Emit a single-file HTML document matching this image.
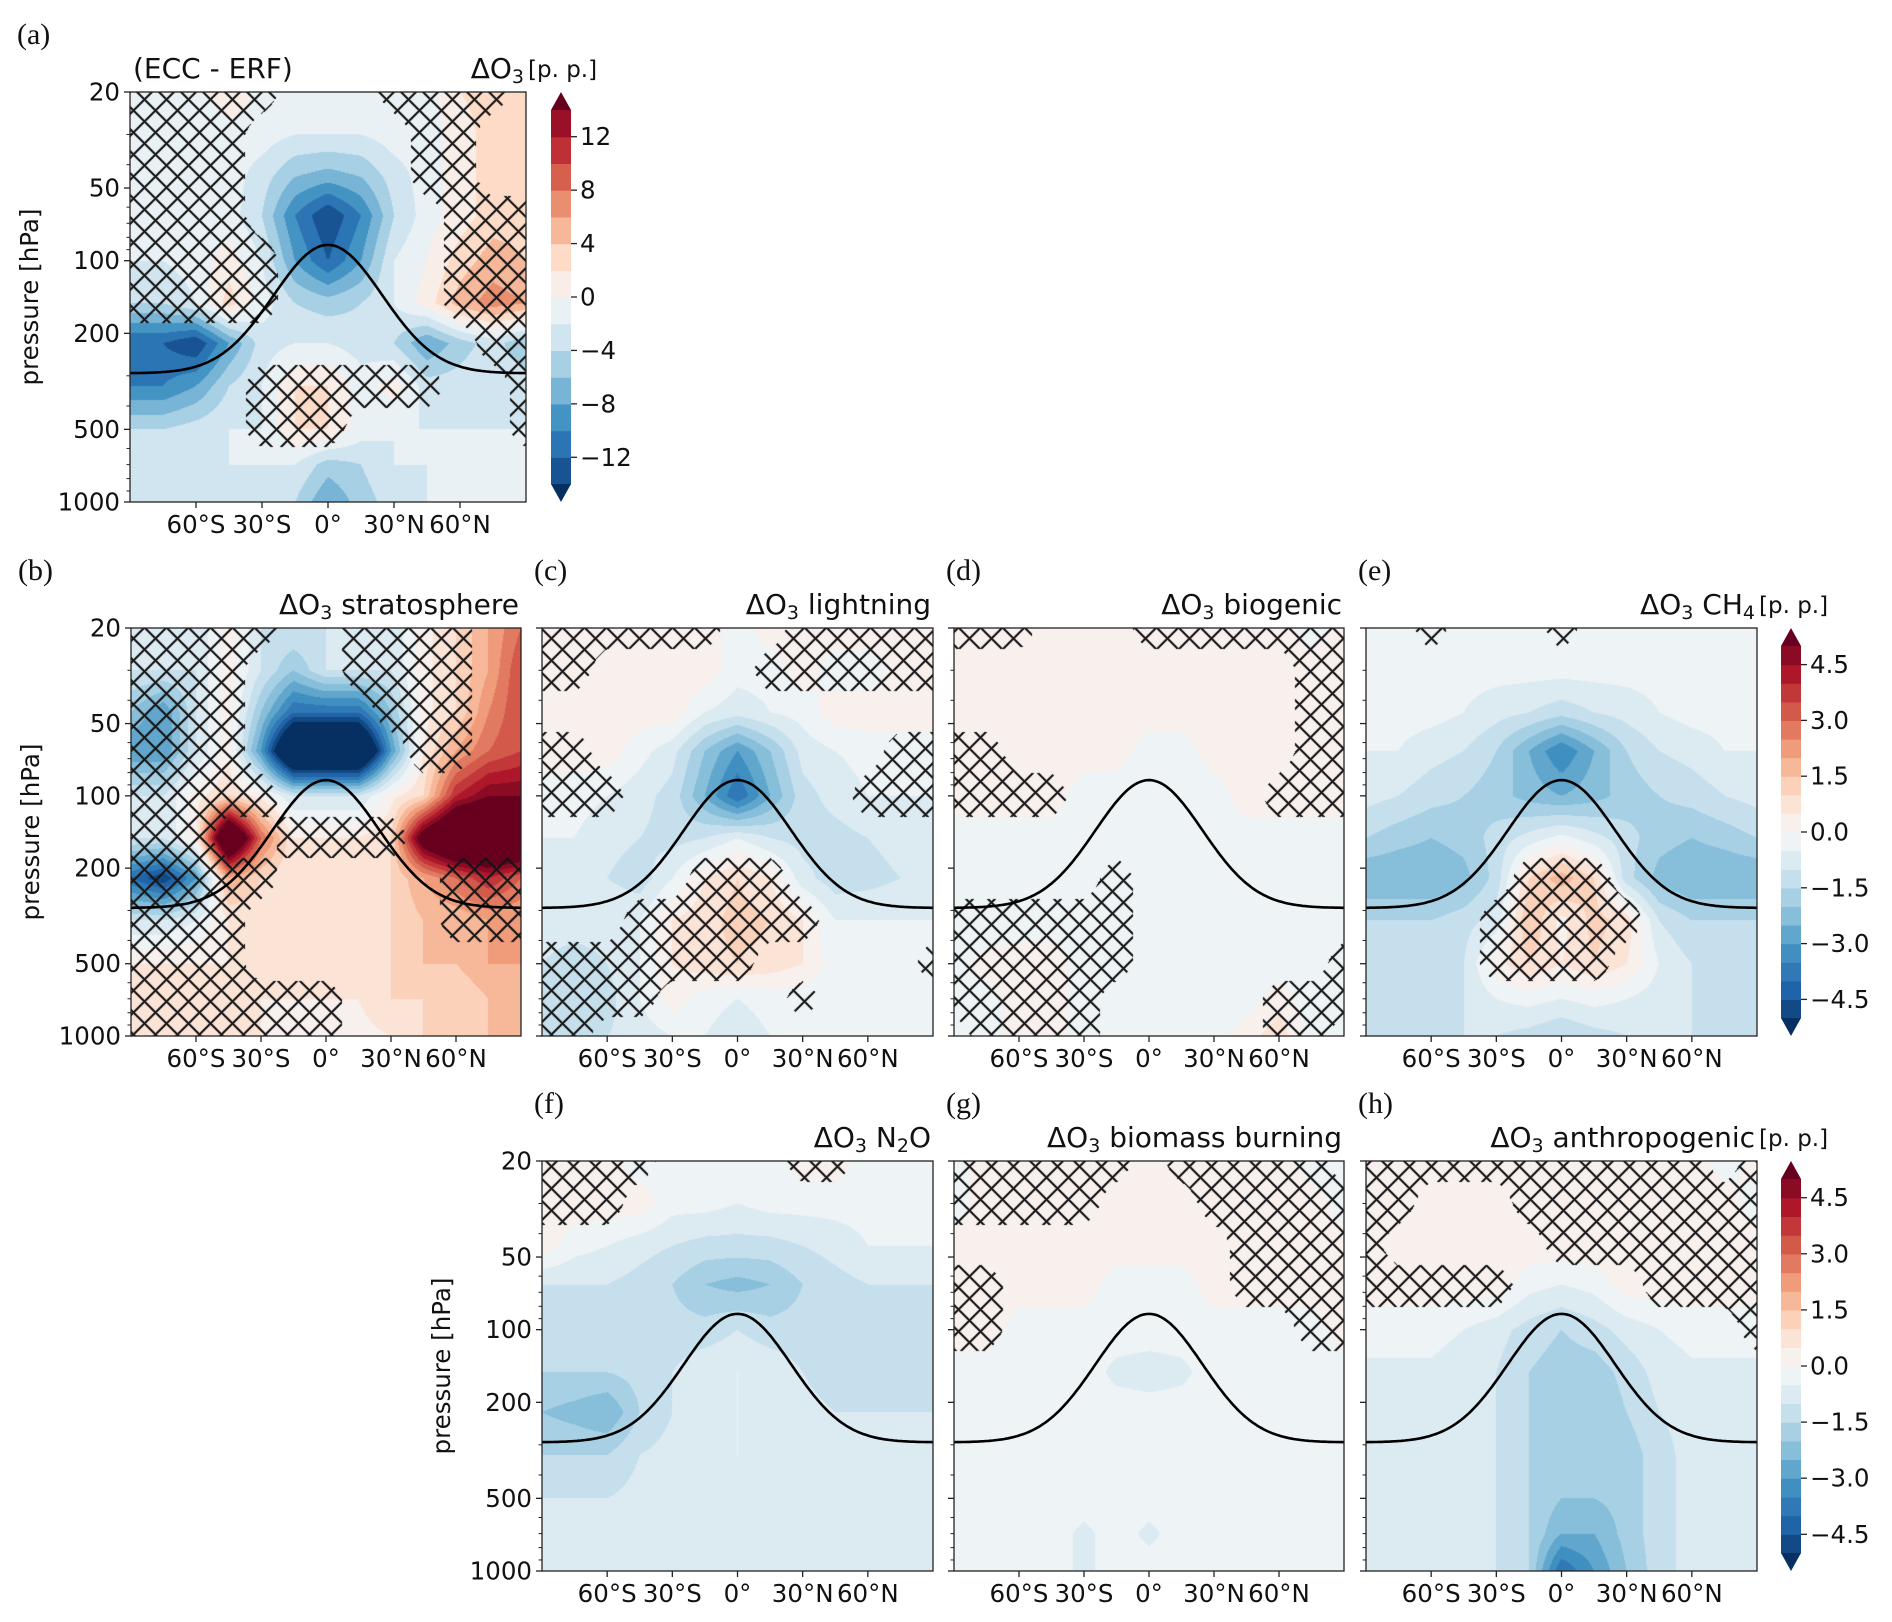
<!DOCTYPE html>
<html><head><meta charset="utf-8">
<style>
html,body{margin:0;padding:0;background:#fff;}
#wrap{position:relative;width:1892px;height:1622px;overflow:hidden;}
canvas,svg{position:absolute;left:0;top:0;}
svg text{font-family:"DejaVu Sans","Liberation Sans",sans-serif;fill:#111;}
svg text.pl{font-family:"Liberation Serif",serif;}
</style></head>
<body>
<div id="wrap">
<canvas id="cv" width="1892" height="1622"></canvas>
<svg id="sv" width="1892" height="1622" xmlns="http://www.w3.org/2000/svg"></svg>
</div>
<script>
// ---- data ----
const lats=[-90,-75,-60,-45,-30,-15,0,15,30,45,60,75,90];
const rowP=[20,30,45,65,100,150,220,330,500,700,1000];
const yTickLabels=[20,50,100,200,500,1000];
const yMinor=[30,40,60,70,80,90,300,400,600,700,800,900];
const xTickVals=[-60,-30,0,30,60];
const xTickLabels=["60°S","30°S","0°","30°N","60°N"];
const cbTicksA=[-12,-8,-4,0,4,8,12];
const cbTicksB=[-4.5,-3.0,-1.5,0.0,1.5,3.0,4.5];
const tropoPolar=293, tropoEq=86;

const valsA=[
[-2,-2,-1,2,-1,-1,-1,-1,-1,-1,2,3,3],
[-2,-2,-2,-1,-1,-2,-2,-2,-1,-1,1,3,3],
[-2,-2,-2,-1,-3,-6,-7,-6,-3,-1,1,3,3],
[-2,-2,-2,-1,-4,-10,-14,-10,-4,-1,1,3,3],
[-2,-2,-1,1,-2,-8,-12,-8,-2,0,3,5,4],
[-4,-4,-2,3,-1,-4,-5,-4,-2,1,5,7,6],
[-12,-12,-14,-8,-3,-2,-2,-3,-4,-8,-5,-3,-6],
[-10,-10,-8,-4,-2,2,2,-1,1,-3,-3,-2,-3],
[-4,-4,-3,-2,-2,2,2,-1,-2,-2,-2,-2,-2],
[-3,-3,-2,-2,-2,-2,-5,-4,-2,-2,-2,-2,-2],
[-2,-3,-3,-2,-3,-4,-8,-5,-3,-2,-2,-2,-2]];
const hatchA=["1111100011110","1111000001100","1111000001100","1111000000111","1111100000111","1111100000111","0000000000011","0000111111001","0000111000001","0000000000000","0000000000000"];

const valsB=[
[-1,-1,-1,0.3,-1,-1,-1,-1,-1,0.3,1,2,3],
[-1,-1,-1,0.3,-1,-2,-1,-1,-1,0.3,1,2,3.5],
[-2,-3,-1,0.3,-2,-4,-4,-4,-2,0.3,1,2.5,3.5],
[-3,-3,-1,0.3,-3,-8,-8,-8,-3,0.5,2,3,3.5],
[-1,-1,0.3,1,0.3,-1,-1,-1,0.3,1,4,5,5],
[-1,-1,0.3,8,3,0.5,0.5,0.5,1,6,8,8,8],
[-4,-5,-3,2,1,0.5,0.5,0.5,1,2,3,4,3],
[-1,-1,-0.5,0.5,0.5,0.5,0.5,0.8,1,1.5,1.5,2,2],
[0.5,0.5,0.5,0.5,0.8,0.5,0.5,0.5,1,1.5,1.5,2,2],
[0.5,0.5,0.5,0.5,0.5,0.5,0.5,0.5,1,1,1,1.5,2],
[0.5,0.5,0.5,0.5,0.5,0.3,0.3,0.3,0.5,1,1,1.5,2]];
const hatchB=["1111100111100","1111000111100","1111000011100","1111000001100","1111100000000","1110011110000","1111100000111","1111000000111","1111000000000","1111111000000","1111111000000"];

const valsC=[
[0.3,0.3,0.3,0.3,0.3,0.3,-0.3,0.3,0.3,0.3,0.3,0.3,0.3],
[0.3,0.3,0.3,0.3,0.3,0.3,-0.3,-0.3,0.3,-0.3,-0.3,0.3,0.3],
[0.3,0.3,0.3,0.3,0.3,-0.5,-0.8,-0.5,-0.3,0.3,0.3,0.3,0.3],
[0.3,0.3,0.3,-0.3,-0.8,-2,-3,-2,-0.8,-0.5,-0.3,-0.3,-0.3],
[-0.3,-0.3,-0.5,-0.8,-1.2,-2.5,-4,-2.5,-1.2,-0.8,-0.5,-0.5,-0.5],
[-0.5,-0.5,-0.8,-1,-1.2,-1,-0.5,-1,-1.2,-1.2,-1,-0.8,-0.8],
[-0.8,-0.8,-1,-1.3,-0.5,0.5,1,0.5,-0.8,-1.3,-1.2,-1,-1],
[-0.5,-0.5,-0.5,-0.5,0.5,0.8,1.2,1,0.5,-0.5,-0.5,-0.5,-0.5],
[-1,-1.5,-1,-0.5,0.5,0.8,1,0.8,0.5,-0.3,-0.3,-0.5,-0.5],
[-1.5,-1.5,-1.2,-0.5,0.3,-0.3,-0.5,-0.3,-0.3,-0.3,-0.3,-0.3,-0.3],
[-1.5,-1.5,-1,-0.8,-0.5,-0.5,-0.8,-0.5,-0.3,-0.3,-0.3,-0.3,-0.3]];
const hatchC=["1111110011111","1100000111111","0000000000000","1100000000011","1110000000111","0000000000000","0000011100000","0001111110000","1111111000001","1111000010000","1100000000000"];

const valsD=[
[0.3,0.3,0.3,0.3,0.3,0.3,0.3,0.3,0.3,0.3,0.3,-0.3,0.3],
[0.3,0.3,0.3,0.3,0.3,0.3,0.3,0.3,0.3,0.3,0.3,0.3,0.3],
[0.3,0.3,0.3,0.3,0.3,0.3,0.3,0.3,0.3,0.3,0.3,0.3,0.3],
[0.3,0.3,0.3,0.3,0.3,0.3,-0.3,-0.3,0.3,0.3,0.3,0.3,0.3],
[0.3,0.3,0.3,0.3,-0.3,-0.4,-0.4,-0.4,-0.3,0.3,0.3,0.3,0.3],
[-0.3,-0.3,-0.3,-0.3,-0.3,-0.4,-0.4,-0.3,-0.3,-0.3,-0.3,-0.3,-0.3],
[-0.3,-0.3,-0.3,-0.3,-0.3,-0.3,-0.3,-0.3,-0.3,-0.3,-0.3,-0.3,-0.3],
[-0.5,-0.5,-0.3,-0.3,-0.5,-0.3,-0.3,-0.3,-0.3,-0.3,-0.3,-0.3,-0.3],
[-0.3,0.3,0.3,0.3,-0.3,-0.3,-0.3,-0.3,-0.3,-0.3,-0.3,-0.5,-0.5],
[-0.3,-0.3,0.3,0.3,-0.3,-0.3,-0.3,-0.3,-0.3,-0.3,0.3,-0.3,-0.3],
[-0.3,-0.3,0.3,0.3,-0.3,-0.3,-0.3,-0.3,-0.3,0.3,0.8,-0.3,-0.3]];
const hatchD=["1110001111111","0000000000011","0000000000011","1100000000011","1111000000111","0000000000000","0000010000000","1111110000000","1111110000001","1111100000111","0111100000110"];

const valsE=[
[-0.3,-0.3,-0.3,-0.3,-0.3,-0.3,-0.3,-0.3,-0.3,-0.3,-0.3,-0.3,-0.3],
[-0.3,-0.3,-0.3,-0.3,-0.3,-0.3,-0.3,-0.3,-0.3,-0.3,-0.3,-0.3,-0.3],
[-0.3,-0.3,-0.3,-0.5,-0.8,-1,-1.3,-1,-0.8,-0.5,-0.3,-0.3,-0.3],
[-0.5,-0.5,-0.8,-1,-1.5,-2.5,-3.5,-2.5,-1.5,-1,-0.8,-0.5,-0.5],
[-0.8,-1,-1.3,-1.5,-1.8,-2.2,-2.5,-2.2,-1.8,-1.5,-1.3,-1,-0.8],
[-1.5,-1.8,-2,-1.8,-1.3,-0.8,-0.3,-0.8,-1.3,-1.8,-2,-1.8,-1.5],
[-2.5,-2.5,-2.5,-2.2,-1.3,1,1.8,1,-1.3,-2.2,-2.5,-2.5,-2.5],
[-1.5,-1.5,-1.5,-1.2,-0.8,1.5,0.3,1.2,0.8,-1,-1.5,-1.5,-1.5],
[-1.2,-1.2,-1.2,-1,0.3,1,0.5,1,0.5,-0.5,-1,-1.2,-1.2],
[-1.2,-1.2,-1.2,-1,-0.5,-0.3,-0.5,-0.3,-0.5,-0.8,-1,-1.2,-1.2],
[-1,-1,-1,-1,-1,-1.2,-1.5,-1.2,-1,-1,-1,-1,-1]];
const hatchE=["0010001000000","0000000000000","0000000000000","0000000000000","0000000000000","0000000000000","0000011100000","0000111110000","0000111100000","0000000000000","0000000000000"];

const valsF=[
[0.3,0.3,0.3,-0.3,-0.3,-0.3,-0.3,-0.3,0.3,0.3,-0.3,-0.3,-0.3],
[0.3,0.3,0.3,0.3,-0.3,-0.3,-0.5,-0.3,-0.3,-0.3,-0.3,-0.3,-0.3],
[0.3,-0.3,-0.5,-0.8,-1,-1.2,-1.2,-1.2,-1,-0.8,-0.5,-0.5,-0.5],
[-1,-1,-1,-1.2,-1.5,-2,-2.2,-2,-1.5,-1.2,-1,-1,-1],
[-1,-1.2,-1.2,-1.3,-1.3,-1.3,-1,-1.3,-1.3,-1.3,-1.2,-1.2,-1.2],
[-1.5,-1.5,-1.5,-1.3,-1,-0.6,-0.5,-0.6,-1,-1.3,-1.3,-1.3,-1.3],
[-2,-2.2,-2.5,-1.5,-1,-0.6,-0.5,-0.6,-0.8,-1,-1,-1,-1],
[-1.5,-1.5,-1.5,-1,-0.8,-0.5,-0.5,-0.5,-0.8,-0.8,-0.8,-0.8,-0.8],
[-1,-1,-1,-0.8,-0.8,-0.8,-0.8,-0.8,-0.8,-0.8,-0.8,-0.8,-0.8],
[-1,-1,-0.8,-0.8,-0.8,-0.8,-0.8,-0.8,-0.8,-0.8,-0.8,-0.8,-0.8],
[-1,-0.8,-0.8,-0.8,-0.8,-0.8,-1,-0.8,-0.8,-0.8,-0.8,-0.8,-0.8]];
const hatchF=["1111000011000","1110000000000","0000000000000","0000000000000","0000000000000","0000000000000","0000000000000","0000000000000","0000000000000","0000000000000","0000000000000"];

const valsG=[
[-0.3,0.3,0.3,0.3,0.3,0.3,0.3,0.3,0.3,0.3,0.3,-0.3,-0.3],
[-0.3,0.3,0.3,0.3,0.3,0.3,0.3,0.3,0.3,0.3,0.3,0.3,-0.3],
[0.3,0.3,0.3,0.3,0.3,0.3,0.3,0.3,0.3,0.3,0.3,0.3,0.3],
[0.3,0.3,0.3,0.3,0.3,-0.3,-0.3,-0.3,0.3,0.3,0.3,0.3,0.3],
[0.3,0.3,-0.3,-0.3,-0.3,-0.3,-0.3,-0.3,-0.3,-0.3,-0.3,-0.3,0.3],
[-0.3,-0.3,-0.3,-0.3,-0.3,-0.6,-0.7,-0.6,-0.3,-0.3,-0.3,-0.3,-0.3],
[-0.3,-0.3,-0.3,-0.3,-0.3,-0.3,-0.3,-0.3,-0.3,-0.3,-0.3,-0.3,-0.3],
[-0.3,-0.3,-0.3,-0.3,-0.3,-0.3,-0.3,-0.3,-0.3,-0.3,-0.3,-0.3,-0.3],
[-0.3,-0.3,-0.3,-0.3,-0.3,-0.3,-0.3,-0.3,-0.3,-0.3,-0.3,-0.3,-0.3],
[-0.3,-0.3,-0.3,-0.3,-0.6,-0.3,-0.6,-0.3,-0.3,-0.3,-0.3,-0.3,-0.3],
[-0.3,-0.3,-0.3,-0.3,-0.6,-0.3,-0.3,-0.3,-0.3,-0.3,-0.3,-0.3,-0.3]];
const hatchG=["1111110111110","1111100011111","0000000001111","1100000001111","1100000000011","0000000000000","0000000000000","0000000000000","0000000000000","0000000000000","0000000000000"];

const valsH=[
[0.3,0.3,0.3,0.3,0.3,0.3,0.3,0.3,0.3,0.3,0.3,-0.3,0.3],
[0.3,0.3,0.3,0.3,0.3,0.3,0.3,0.3,0.3,0.3,0.3,0.3,-0.3],
[0.3,0.3,0.3,0.3,0.3,0.3,0.3,0.3,0.3,0.3,0.3,0.3,0.3],
[0.3,0.3,0.3,0.3,0.3,-0.3,-0.5,-0.3,0.3,0.3,0.3,0.3,0.3],
[-0.3,-0.3,-0.3,-0.5,-0.8,-1.2,-1.5,-1.2,-0.8,-0.5,-0.3,-0.3,-0.3],
[-0.6,-0.6,-0.6,-0.8,-1,-1.5,-1.8,-1.8,-1.3,-0.8,-0.6,-0.6,-0.6],
[-0.8,-0.8,-0.8,-0.8,-1,-1.5,-1.8,-2,-1.5,-1,-0.8,-0.8,-0.8],
[-0.8,-0.8,-0.8,-0.8,-1,-1.5,-1.8,-2,-1.8,-1.2,-0.8,-0.8,-0.8],
[-0.8,-0.8,-0.8,-0.8,-1,-1.5,-2,-2,-1.8,-1.2,-0.8,-0.8,-0.8],
[-0.8,-0.8,-0.8,-0.8,-1,-1.5,-2.5,-2.5,-1.8,-1.2,-0.8,-0.8,-0.8],
[-0.8,-0.8,-0.8,-0.8,-1,-1.5,-4,-3,-2,-1.2,-0.8,-0.8,-0.8]];
const hatchH=["1111111111101","1100011111111","1000001111111","1111100001111","0000000000001","0000000000000","0000000000000","0000000000000","0000000000000","0000000000000","0000000000000"];

// ---- layout ----
const panels=[
 {id:"a",x0:130,x1:526,y0:92,y1:502,vals:valsA,hatch:hatchA,lev:[-14,14,2],title:"(ECC - ERF)",right:"",cb:true,ylab:true},
 {id:"b",x0:131,x1:521,y0:628,y1:1036,vals:valsB,hatch:hatchB,lev:[-5,5,0.5],right:"stratosphere",ylab:true},
 {id:"c",x0:542,x1:933,y0:628,y1:1036,vals:valsC,hatch:hatchC,lev:[-5,5,0.5],right:"lightning"},
 {id:"d",x0:954,x1:1344,y0:628,y1:1036,vals:valsD,hatch:hatchD,lev:[-5,5,0.5],right:"biogenic"},
 {id:"e",x0:1366,x1:1757,y0:628,y1:1036,vals:valsE,hatch:hatchE,lev:[-5,5,0.5],right:"CH4",cb:true},
 {id:"f",x0:542,x1:933,y0:1161,y1:1571,vals:valsF,hatch:hatchF,lev:[-5,5,0.5],right:"N2O",ylab:true},
 {id:"g",x0:954,x1:1344,y0:1161,y1:1571,vals:valsG,hatch:hatchG,lev:[-5,5,0.5],right:"biomass burning"},
 {id:"h",x0:1366,x1:1757,y0:1161,y1:1571,vals:valsH,hatch:hatchH,lev:[-5,5,0.5],right:"anthropogenic",cb:true}
];

const cmapAnch=["#053061","#2166ac","#4393c3","#92c5de","#d1e5f0","#f7f7f7","#fddbc7","#f4a582","#d6604d","#b2182b","#67001f"].map(h=>[parseInt(h.slice(1,3),16),parseInt(h.slice(3,5),16),parseInt(h.slice(5,7),16)]);
function cmap(t){t=Math.max(0,Math.min(1,t));const f=t*10;const i=Math.min(9,Math.floor(f));const r=f-i;const a=cmapAnch[i],b=cmapAnch[i+1];return [a[0]+(b[0]-a[0])*r,a[1]+(b[1]-a[1])*r,a[2]+(b[2]-a[2])*r];}
function colorFor(v,lev){const [lo,hi,st]=lev;const n=Math.round((hi-lo)/st);let t;if(v<lo)t=0;else if(v>=hi)t=1;else{const i=Math.floor((v-lo)/st);t=(i+1)/(n+1);}return cmap(t);}
const rowF=rowP.map(p=>Math.log(p/20)/Math.log(50));
function sample(grid,lat,rf,num){
  let c=(lat+90)/15;c=Math.max(0,Math.min(12-1e-6,c));const ci=Math.floor(c),cr=c-ci;
  let k=0;while(k<rowF.length-2&&rf>rowF[k+1])k++;
  let rr=(rf-rowF[k])/(rowF[k+1]-rowF[k]);rr=Math.max(0,Math.min(1,rr));
  const g=(r,cc)=>num?grid[r][cc]:(grid[r][cc]==="1"?1:0);
  const v00=g(k,ci),v01=g(k,ci+1),v10=g(k+1,ci),v11=g(k+1,ci+1);
  return (v00*(1-cr)+v01*cr)*(1-rr)+(v10*(1-cr)+v11*cr)*rr;
}
const cv=document.getElementById('cv');const ctx=cv.getContext('2d');
const img=ctx.createImageData(1892,1622);const D=img.data;
for(let i=0;i<D.length;i+=4){D[i]=255;D[i+1]=255;D[i+2]=255;D[i+3]=255;}
panels.forEach(P=>{
  const w=P.x1-P.x0,h=P.y1-P.y0;
  for(let py=P.y0;py<P.y1;py++){
    const rf=(py-P.y0+0.5)/h;
    for(let px=P.x0;px<P.x1;px++){
      const lat=-90+180*(px-P.x0+0.5)/w;
      const v=sample(P.vals,lat,rf,true);
      let col=colorFor(v,P.lev);
      const m=sample(P.hatch,lat,rf,false);
      if(m>0.5){const s=22;const a=((px+py)%s+s)%s,b=((px-py)%s+s*1000)%s;
        if(a<2.2||b<2.2)col=[20,20,20];}
      const o=(py*1892+px)*4;D[o]=col[0];D[o+1]=col[1];D[o+2]=col[2];
    }
  }
});
ctx.putImageData(img,0,0);

// ---- SVG ----
const NS="http://www.w3.org/2000/svg";const sv=document.getElementById('sv');
function mk(tag,attrs,parent){const e=document.createElementNS(NS,tag);for(const k in attrs)e.setAttribute(k,attrs[k]);(parent||sv).appendChild(e);return e;}
function xs(P,lat){return P.x0+(lat+90)/180*(P.x1-P.x0);}
function ys(P,p){return P.y0+Math.log(p/20)/Math.log(50)*(P.y1-P.y0);}
function tropo(lat){const lp=Math.log10(tropoPolar)-(Math.log10(tropoPolar)-Math.log10(tropoEq))*Math.exp(-(lat/35)*(lat/35));return Math.pow(10,lp);}

panels.forEach(P=>{
  const g=mk('g',{});
  
  
  let d="";for(let lat=-90;lat<=90;lat+=1){d+=(lat===-90?"M":"L")+xs(P,lat).toFixed(1)+","+ys(P,tropo(lat)).toFixed(1);}
  const tp=mk('path',{d:d,fill:"none",stroke:"#000","stroke-width":2.6},g);
  
  
  const fr=mk('rect',{x:P.x0,y:P.y0,width:P.x1-P.x0,height:P.y1-P.y0,fill:"none",stroke:"#222","stroke-width":1.3},g);
  
  
  yTickLabels.forEach(p=>{const y=ys(P,p);mk('line',{x1:P.x0-6,x2:P.x0,y1:y,y2:y,stroke:"#222","stroke-width":1.3},g);
    if(P.ylab){const t=mk('text',{x:P.x0-10,y:y+8.5,"text-anchor":"end","font-size":24.5},g);t.textContent=p;
      
      }});
  yMinor.forEach(p=>{const y=ys(P,p);mk('line',{x1:P.x0-3.5,x2:P.x0,y1:y,y2:y,stroke:"#222","stroke-width":1},g);});
  xTickVals.forEach((lat,i)=>{const x=xs(P,lat);mk('line',{x1:x,x2:x,y1:P.y1,y2:P.y1+6,stroke:"#222","stroke-width":1.3},g);
    const t=mk('text',{x:x,y:P.y1+31,"text-anchor":"middle","font-size":24.5},g);t.textContent=xTickLabels[i];
    
    });
  if(P.ylab){const t=mk('text',{transform:`translate(${P.x0-92},${(P.y0+P.y1)/2}) rotate(-90)`,"text-anchor":"middle","font-size":24.5},g);t.textContent="pressure [hPa]";
    
    }
  const pl=mk('text',{x:P.x0-113,y:P.y0-48,"font-size":30,class:"pl"},g);pl.textContent="("+P.id+")";
  if(P.id!=="a"&&P.id!=="b"){pl.setAttribute('x',P.x0-8);}
  
  
  if(P.title){const t=mk('text',{x:P.x0+3,y:P.y0-14,"font-size":28},g);t.textContent=P.title;
    
    }
  const rt=mk('text',{x:P.x1-2,y:P.y0-14,"text-anchor":"end","font-size":28},g);
  
  
  const s1=mk('tspan',{},rt);s1.textContent="ΔO";
  const s2=mk('tspan',{"font-size":19,dy:5},rt);s2.textContent="3";
  const rest=P.right;
  if(rest){const s3=mk('tspan',{dy:-5},rt);
    if(rest==="CH4"){s3.textContent=" CH";const s4=mk('tspan',{"font-size":19,dy:5},rt);s4.textContent="4";}
    else if(rest==="N2O"){s3.textContent=" N";const s4=mk('tspan',{"font-size":19,dy:5},rt);s4.textContent="2";const s5=mk('tspan',{dy:-5},rt);s5.textContent="O";}
    else s3.textContent=" "+rest;}
  if(P.cb){
    const u=mk('text',{x:P.x1+2,y:P.y0-15,"font-size":23},g);u.textContent="[p. p.]";
    
    
    const cbx=P.x1+(P.id==="a"?25:24),cbw=20,tri=18,top=P.y0,bot=P.y1;
    const cg=mk('g',{},g);
    
    
    const [lo,hi,st]=P.lev;const n=Math.round((hi-lo)/st);const bh=(bot-top-2*tri)/n;
    for(let i=0;i<n;i++){const c=colorFor(lo+st*(i+0.5),P.lev);
      const r=mk('rect',{x:cbx,y:bot-tri-(i+1)*bh,width:cbw,height:bh+0.6,fill:`rgb(${c.map(Math.round).join(',')})`},cg);
      
      }
    const ct=cmap(1),cb2=cmap(0);
    mk('path',{d:`M${cbx},${top+tri} L${cbx+cbw/2},${top} L${cbx+cbw},${top+tri}Z`,fill:`rgb(${ct.map(Math.round).join(',')})`},cg);
    mk('path',{d:`M${cbx},${bot-tri} L${cbx+cbw/2},${bot} L${cbx+cbw},${bot-tri}Z`,fill:`rgb(${cb2.map(Math.round).join(',')})`},cg);
    const ticks=P.id==="a"?cbTicksA:cbTicksB;
    ticks.forEach(v=>{const y=bot-tri-(v-lo)/(hi-lo)*(bot-top-2*tri);
      mk('line',{x1:cbx+cbw,x2:cbx+cbw+6,y1:y,y2:y,stroke:"#222","stroke-width":1.3},cg);
      const t=mk('text',{x:cbx+cbw+9,y:y+8.5,"font-size":24.5},cg);
      t.textContent=(v<0?"−":"")+(P.id==="a"?Math.abs(v):Math.abs(v).toFixed(1));
      
      });
  }
});
</script>
</body></html>
